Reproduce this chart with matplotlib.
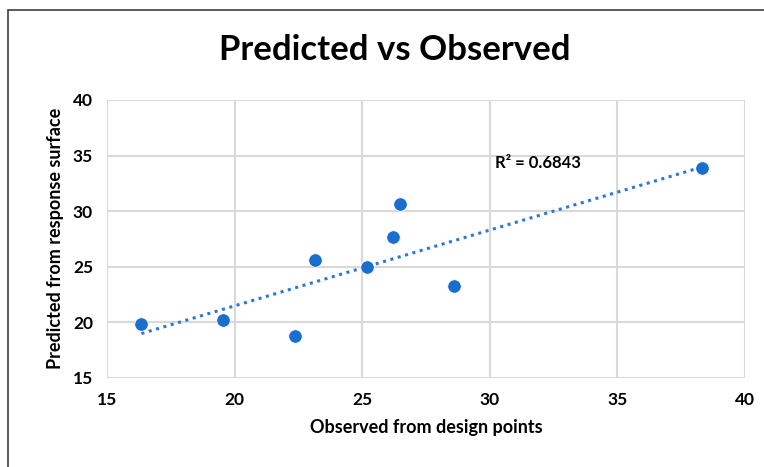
import numpy as np
import matplotlib.pyplot as plt
from matplotlib.patches import Rectangle

observed = [16.35, 19.55, 22.35, 23.15, 25.2, 26.2, 26.5, 28.6, 38.3]
predicted = [19.8, 20.2, 18.75, 25.6, 25.0, 27.65, 30.6, 23.25, 33.9]
r2_label = "R² = 0.6843"

plt.rcParams['font.family'] = ['Lato', 'DejaVu Sans']

fig = plt.figure(figsize=(7.64, 4.67), dpi=100)
ax = fig.add_axes([0.140, 0.191, 0.835, 0.595])

# chart border (only left/top visible in reference)
fig.patches.append(Rectangle((8 / 764, -0.1), 1.2, 1 - 10 / 467 + 0.1,
                             transform=fig.transFigure, fill=False,
                             edgecolor='#404040', linewidth=1.2))

# linear trendline
m, b = np.polyfit(observed, predicted, 1)
xs = np.array([min(observed), max(observed)])
ax.plot(xs, m * xs + b, linestyle=(0, (1, 1.5)), color='#2e78d2', linewidth=2.2, zorder=2)

ax.scatter(observed, predicted, s=95, color='#1a6fcc', edgecolor='white', linewidth=0.6, zorder=3)

ax.set_xlim(15, 40)
ax.set_ylim(15, 40)
ax.set_xticks(range(15, 41, 5))
ax.set_yticks(range(15, 41, 5))
ax.grid(True, color='#d9d9d9', linewidth=1.5)
ax.set_axisbelow(True)
for s in ax.spines.values():
    s.set_visible(False)
ax.tick_params(length=0, labelsize=12.5, pad=10)
for lbl in ax.get_xticklabels() + ax.get_yticklabels():
    lbl.set_fontweight('bold')

ax.set_xlabel('Observed from design points', fontsize=13, fontweight='bold', labelpad=8)
ax.set_ylabel('Predicted from response surface', fontsize=13, fontweight='bold', labelpad=6)

fig.text(0.517, 0.893, 'Predicted vs Observed', ha='center', va='center',
         fontsize=25, fontweight='bold')
ax.text(30.2, 34.3, r2_label, fontsize=12, fontweight='bold', ha='left', va='center')

fig.savefig('out.png', dpi=100)
